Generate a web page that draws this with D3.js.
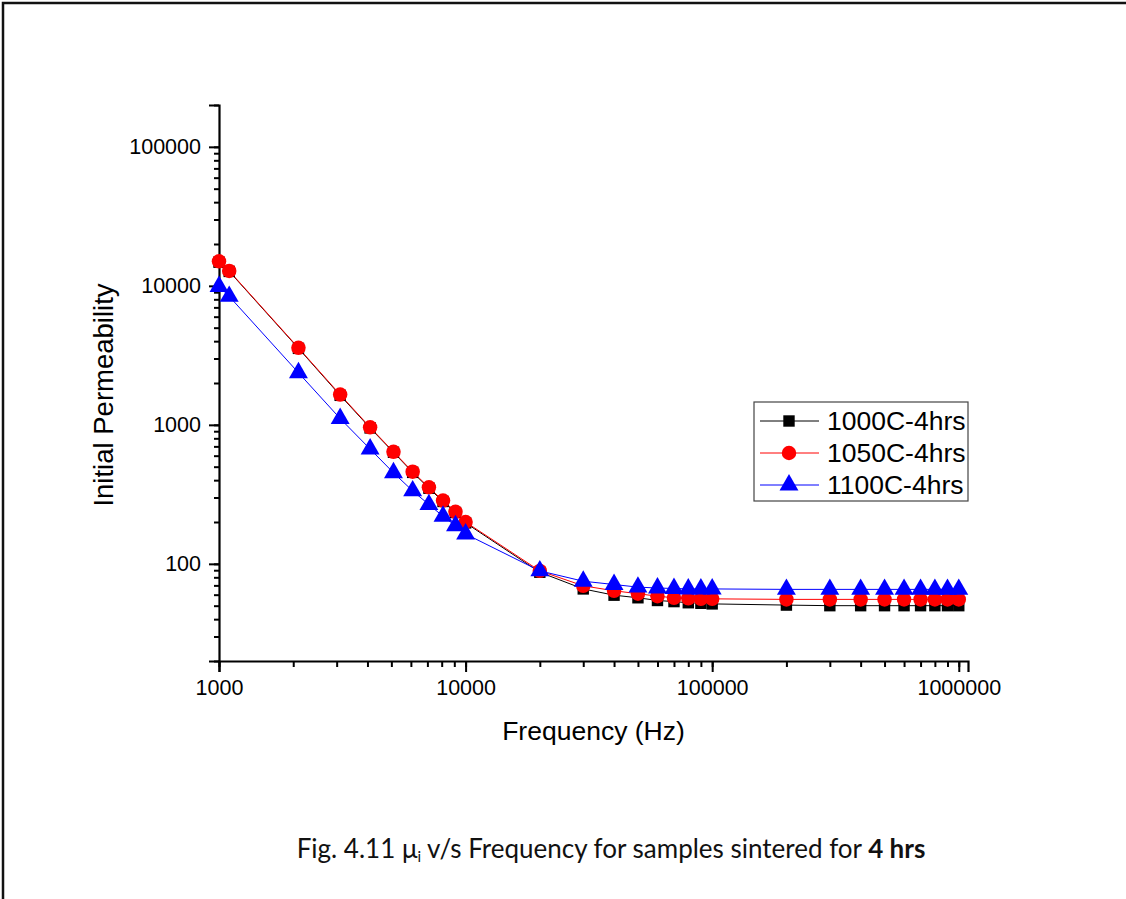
<!DOCTYPE html>
<html>
<head>
<meta charset="utf-8">
<script src="https://cdn.jsdelivr.net/npm/d3@7"></script>
<style>
  body { margin: 0; background: #fff; }
  svg { display: block; }
</style>
</head>
<body>
<div id="chart"></div>
<script>
// Frequencies (Hz)
const freqs = [
    1000, 1100, 2100, 3100, 4100, 5100, 6100, 7100, 8100, 9100, 10000,
    20000, 30000, 40000, 50000, 60000, 70000, 80000, 90000, 100000,
    200000, 300000, 400000, 500000, 600000, 700000, 800000, 900000, 1000000
];

// Initial permeability per sample
const perm1000 = [
    14800, 12700, 3550, 1630, 950, 635, 455, 350, 281, 234, 197,
    87, 66, 59.5, 57, 54.5, 53.5, 52.5, 52, 51.5,
    50.5, 50, 50, 50, 50, 50, 50, 50, 50
];
const perm1050 = [
    15000, 12800, 3580, 1650, 960, 640, 460, 355, 285, 237, 200,
    89, 69.5, 64, 61, 58.5, 57, 56.5, 56, 56,
    55.5, 55.5, 55.5, 55.5, 55.5, 55.5, 55.5, 55.5, 55.5
];
const perm1100 = [
    9900, 8400, 2370, 1110, 670, 452, 335, 267, 220, 188, 164,
    89, 75, 71, 68, 67, 66.5, 66, 66, 66,
    65.5, 65.5, 65.5, 65.5, 65.5, 65.5, 65.5, 65.5, 65.5
];

const seriesNames = ["1000C-4hrs", "1050C-4hrs", "1100C-4hrs"];
const seriesColors = ["#000000", "#ff0000", "#0000ff"];
const seriesShapes = [d3.symbolSquare, d3.symbolCircle, d3.symbolTriangle];
const seriesValues = [perm1000, perm1050, perm1100];

const xTickLabels = [1000, 10000, 100000, 1000000];
const yTickLabels = [100, 1000, 10000, 100000];

const W = 1126, H = 899;
const margin = { left: 219, top: 105, right: 1126 - 968, bottom: 899 - 661 };
const width = W - margin.left - margin.right;
const height = H - margin.top - margin.bottom;

const svg = d3.select("#chart")
    .append("svg")
    .attr("width", W)
    .attr("height", H);

// page frame (only top and left edges show)
svg.append("path")
    .attr("d", `M3,${H} L3,3 L${W},3`)
    .attr("fill", "none")
    .attr("stroke", "#111")
    .attr("stroke-width", 2.5);

const g = svg.append("g")
    .attr("transform", `translate(${margin.left}, ${margin.top})`);

const x = d3.scaleLog()
    .domain([1000, 1090000])
    .range([0, width]);

const y = d3.scaleLog()
    .domain([20, 200000])
    .range([height, 0]);

const font = "'Liberation Sans', Arial, sans-serif";

// minor ticks
g.append("g")
    .attr("transform", `translate(0, ${height})`)
    .call(d3.axisBottom(x).tickSize(6).tickFormat(""))
    .call(a => a.select(".domain").remove());
g.append("g")
    .call(d3.axisLeft(y).tickSize(5).tickFormat(""))
    .call(a => a.select(".domain").remove());

// major ticks and labels
const xAxis = g.append("g")
    .attr("transform", `translate(0, ${height})`)
    .call(d3.axisBottom(x).tickValues(xTickLabels).tickSize(11).tickPadding(8).tickFormat(d3.format("d")));
const yAxis = g.append("g")
    .call(d3.axisLeft(y).tickValues(yTickLabels).tickSize(10).tickPadding(8).tickFormat(d3.format("d")));

[xAxis, yAxis].forEach(a => {
    a.selectAll("text")
        .style("font-family", font)
        .style("font-size", "21.5px")
        .attr("fill", "#000");
});

g.selectAll(".tick line")
    .attr("stroke", "#000")
    .attr("stroke-width", 2);

g.selectAll(".domain")
    .attr("stroke", "#000")
    .attr("stroke-width", 2.2);

// lines and markers
const line = d3.line()
    .x((d, i) => x(freqs[i]))
    .y(d => y(d));

const symSizes = [130, 165, 155];

seriesValues.forEach((vals, s) => {
    g.append("path")
        .datum(vals)
        .attr("fill", "none")
        .attr("stroke", seriesColors[s])
        .attr("stroke-width", 1)
        .attr("d", line);
});

seriesValues.forEach((vals, s) => {
    g.selectAll(".m" + s)
        .data(vals)
        .enter()
        .append("path")
        .attr("class", "m" + s)
        .attr("transform", (d, i) => `translate(${x(freqs[i])}, ${y(d)})`)
        .attr("d", d3.symbol().type(seriesShapes[s]).size(symSizes[s]))
        .attr("fill", seriesColors[s]);
});

// axis titles
svg.append("text")
    .attr("x", margin.left + width / 2)
    .attr("y", 740)
    .attr("text-anchor", "middle")
    .style("font-family", font)
    .style("font-size", "26.5px")
    .text("Frequency (Hz)");

svg.append("text")
    .attr("transform", `translate(113, ${margin.top + height / 2 + 12}) rotate(-90)`)
    .attr("text-anchor", "middle")
    .style("font-family", font)
    .style("font-size", "27.5px")
    .text("Initial Permeability");

// legend
const legend = svg.append("g")
    .attr("transform", "translate(754, 402)");

legend.append("rect")
    .attr("width", 214)
    .attr("height", 99)
    .attr("fill", "#fff")
    .attr("stroke", "#444")
    .attr("stroke-width", 1.2);

seriesNames.forEach((name, s) => {
    const ly = 19 + s * 32;
    legend.append("line")
        .attr("x1", 6).attr("x2", 65)
        .attr("y1", ly).attr("y2", ly)
        .attr("stroke", seriesColors[s])
        .attr("stroke-width", 1);
    legend.append("path")
        .attr("transform", `translate(35, ${ly})`)
        .attr("d", d3.symbol().type(seriesShapes[s]).size(symSizes[s]))
        .attr("fill", seriesColors[s]);
    legend.append("text")
        .attr("x", 73)
        .attr("y", ly + 9)
        .style("font-family", font)
        .style("font-size", "26.5px")
        .text(name);
});

// caption
const cap = svg.append("text")
    .attr("x", 611)
    .attr("y", 858)
    .attr("text-anchor", "middle")
    .style("font-family", "Lato, 'Open Sans', sans-serif")
    .style("font-size", "26px")
    .attr("fill", "#111");
cap.append("tspan").text("Fig. 4.11 μ");
cap.append("tspan").attr("dy", 4).style("font-size", "15px").text("i");
cap.append("tspan").attr("dy", -4).text(" v/s Frequency for samples sintered for ");
cap.append("tspan").style("font-weight", "bold").text("4 hrs");
</script>
</body>
</html>
